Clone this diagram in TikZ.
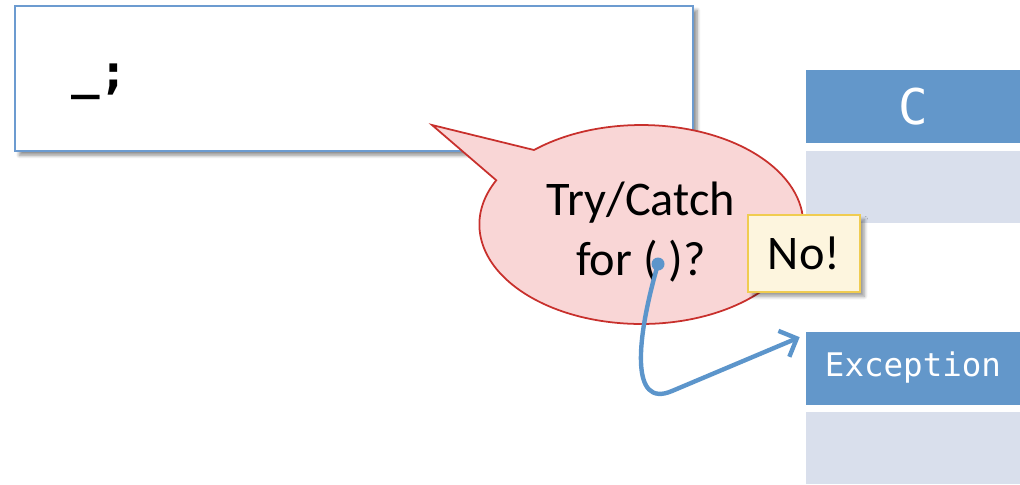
\documentclass[tikz,border=0pt]{standalone}
\usepackage{fontspec}
\setmainfont{Carlito}
\setmonofont{DejaVu Sans Mono}
\usetikzlibrary{shadows,shadows.blur,arrows.meta,calc}

\definecolor{framblue}{RGB}{108,155,208}
\definecolor{headblue}{RGB}{99,151,202}
\definecolor{rowgray}{RGB}{217,223,236}
\definecolor{bubfill}{RGB}{249,214,214}
\definecolor{bubline}{RGB}{200,48,44}
\definecolor{notefill}{RGB}{253,245,222}
\definecolor{noteline}{RGB}{240,204,80}
\definecolor{linkblue}{RGB}{92,149,203}

\tikzset{
  codebox/.style={draw=framblue, line width=1pt, fill=white, anchor=north west,
    blur shadow={shadow xshift=2.5pt, shadow yshift=-2.5pt, shadow blur steps=6, shadow opacity=45}},
  notebox/.style={draw=noteline, line width=1.2pt, fill=notefill,
    blur shadow={shadow xshift=2.5pt, shadow yshift=-2.5pt, shadow blur steps=6, shadow opacity=40},
    font=\fontsize{27.5}{30}\selectfont, inner sep=0pt},
  headrow/.style={fill=headblue, text=white, inner sep=0pt,
    minimum width=4.28cm, minimum height=1.46cm},
  bodyrow/.style={fill=rowgray, inner sep=0pt,
    minimum width=4.28cm, minimum height=1.44cm},
  bubble/.style={fill=bubfill, draw=bubline, line width=1pt, line join=miter},
  link/.style={draw=linkblue, line width=2.5pt, line cap=round,
    -{Straight Barb[length=8pt,width=16pt,line width=2.5pt]}},
}

\begin{document}
\begin{tikzpicture}[x=0.02cm, y=-0.02cm]
\useasboundingbox (0,0) rectangle (1020,484);

% code panel
\node[codebox, minimum width=13.56cm, minimum height=2.90cm] (code) at (14,5) {};
\node[anchor=base west, inner sep=0pt, font=\ttfamily\bfseries\fontsize{27}{30}\selectfont] (codetext) at (71,88) {\_;};

% right-hand table of rows
\node[headrow, font=\ttfamily\fontsize{28}{30}\selectfont] (C) at (913,106.5) {C};
\node[bodyrow] (Crow) at (913,187) {};
\node[headrow, font=\ttfamily\fontsize{18.5}{20}\selectfont] (exc) at (913,368) {Exception};
\node[bodyrow] (excrow) at (913,448) {};

% speech bubble: ellipse with a pointer towards the code panel
\coordinate (tip) at (432,125);
\path[bubble] (534,150) arc[start angle=131.5, end angle=-206.4, x radius=3.24cm, y radius=1.99cm]
  -- (tip) -- cycle;
\node[align=center, inner sep=0pt, font=\fontsize{27.5}{34}\selectfont] (bub) at (641,232)
  {Try/Catch\\for ( )?};

% note
\node[notebox, minimum width=2.24cm, minimum height=1.54cm] (no) at (804,253.5) {No!};

% link from the parentheses to the Exception row
\coordinate (src) at (658,264);
\coordinate (dst) at ($(exc.north west)+(-6,6)$);
\fill[linkblue] (src) circle[radius=6.5];
\draw[link] (src) .. controls (636,340) and (630,409) .. (672,391) -- (dst);

\end{tikzpicture}
\end{document}
